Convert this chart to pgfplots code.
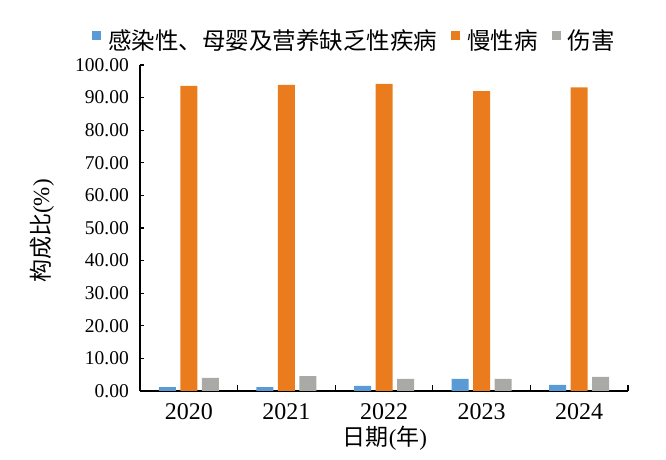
\documentclass[border=0pt]{standalone}
\usepackage{fontspec}
\setmainfont{Liberation Serif}
\newfontfamily\cjk{Noto Sans CJK SC}
\usepackage{pgfplots}
\pgfplotsset{compat=1.18}
\definecolor{cblue}{HTML}{5B9BD5}
\definecolor{corange}{HTML}{EB7C1E}
\definecolor{cgray}{HTML}{A9A9A5}
\begin{document}
\begin{tikzpicture}
\path[use as bounding box] (0,0) rectangle (666pt,460pt);
\begin{axis}[
  at={(140pt,69pt)}, anchor=south west,
  scale only axis, width=488pt, height=326pt,
  ybar=4.5pt, bar width=17pt,
  xmin=-0.5, xmax=4.5, ymin=0, ymax=100,
  axis x line=bottom, axis y line=left,
  axis line style={-, line width=1.3pt, black},
  xtick={0,...,4}, xticklabels={2020,2021,2022,2023,2024},
  major x tick style={draw=none},
  minor xtick={-0.5,0.5,...,4.5},
  minor tick length=6pt,
  minor x tick style={line width=1.3pt, black},
  ytick={0,10,...,100}, major tick length=4pt,
  tick align=inside,
  y tick style={line width=1.3pt, black},
  /pgf/number format/assume math mode=true,
  yticklabel={\pgfmathprintnumber[fixed,fixed zerofill,precision=2]{\tick}},
  y tick label style={font=\fontsize{19.5}{20}\selectfont, anchor=east, inner sep=0pt, xshift=-11pt},
  x tick label style={font=\fontsize{24}{25}\selectfont, anchor=center, inner sep=0pt, yshift=-21pt},
  every axis y label/.style={at={(axis description cs:-0.2008,0.491)}, rotate=90, anchor=center},
  every axis x label/.style={at={(axis description cs:0.502,-0.144)}, anchor=center},
  ylabel={\fontsize{23}{24}\selectfont{\cjk 构成比}(\%)},
  xlabel={\fontsize{23}{24}\selectfont{\cjk 日期}({\cjk 年})},
  every axis plot post/.append style={legend image code/.code={\fill[##1] (0pt,0pt) rectangle (9pt,9pt); \path (14pt,4.5pt);}},
  legend columns=3,
  legend style={draw=none, fill=none, at={(-0.098,1.077)}, anchor=west, inner sep=0pt,
    font=\cjk\fontsize{23.5}{24}\selectfont, nodes={inner sep=2pt},
    /tikz/every even column/.append style={column sep=12pt}},
]
\addplot[fill=cblue, draw=none] coordinates {(0,1.2) (1,1.2) (2,1.6) (3,3.7) (4,1.9)};
\addplot[fill=corange, draw=none] coordinates {(0,93.6) (1,93.9) (2,94.2) (3,92.0) (4,93.1)};
\addplot[fill=cgray, draw=none] coordinates {(0,4.0) (1,4.6) (2,3.7) (3,3.7) (4,4.3)};
\legend{感染性、母婴及营养缺乏性疾病,慢性病,伤害}
\end{axis}
\end{tikzpicture}
\end{document}
